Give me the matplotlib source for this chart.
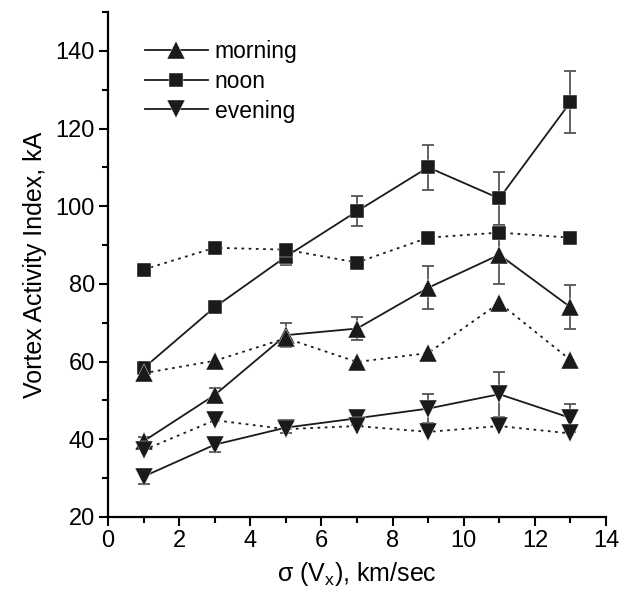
import numpy as np
import matplotlib.pyplot as plt
from matplotlib.lines import Line2D

plt.rcParams['font.family'] = ['Liberation Sans', 'DejaVu Sans']

# Dados
x = [1, 3, 5, 7, 9, 11, 13]

morning = [39.5, 51.4, 66.8, 68.5, 79.0, 87.5, 74.0]
morning_err = [1.0, 1.8, 3.0, 3.0, 5.5, 7.6, 5.6]
noon = [58.3, 74.0, 87.0, 98.7, 110.0, 102.0, 126.8]
noon_err = [0.8, 0.8, 2.2, 3.8, 5.8, 6.8, 8.0]
evening = [30.4, 38.6, 43.0, 45.4, 47.9, 51.6, 45.5]
evening_err = [2.0, 2.0, 1.5, 1.8, 3.8, 5.8, 3.6]

morning_b = [57.0, 60.2, 66.0, 59.9, 62.2, 75.1, 60.4]
noon_b = [83.7, 89.3, 88.8, 85.5, 91.9, 93.2, 91.9]
evening_b = [37.2, 44.9, 42.6, 43.4, 41.9, 43.4, 41.5]

labels = ['morning', 'noon', 'evening']
markers = ['^', 's', 'v']
sizes = [12.5, 10, 12.5]

fig = plt.figure(figsize=(6.28, 5.99), dpi=100)
ax = fig.add_axes([0.172, 0.137, 0.793, 0.843])

cor = '#1a1a1a'
pont = (0, (1.5, 2.5))
mk = dict(mec='white', mew=0.3)

# Séries com barras de erro (linha contínua), barras por baixo dos marcadores
for y, e, m, s in zip([morning, noon, evening], [morning_err, noon_err, evening_err], markers, sizes):
    ax.errorbar(x, y, yerr=e, fmt='none', ecolor='#555555', elinewidth=1.3,
                capsize=4, capthick=1.3, zorder=2)
    ax.plot(x, y, color=cor, lw=1.3, marker=m, ms=s, zorder=3, **mk)

# Séries pontilhadas
for y, m, s in zip([morning_b, noon_b, evening_b], markers, sizes):
    ax.plot(x, y, color=cor, lw=1.3, ls=pont, marker=m, ms=s, zorder=3, **mk)

ax.set_xlim(0, 14)
ax.set_ylim(20, 150)
ax.set_xticks(np.arange(0, 15, 2))
ax.set_xticks(np.arange(1, 14, 2), minor=True)
ax.set_yticks(np.arange(20, 141, 20))
ax.set_yticks(np.arange(30, 151, 20), minor=True)
ax.spines['top'].set_visible(False)
ax.spines['right'].set_visible(False)
for s in ['left', 'bottom']:
    ax.spines[s].set_linewidth(1.6)
ax.tick_params(which='major', direction='out', length=6.5, width=1.5, labelsize=17, pad=3)
ax.tick_params(which='minor', direction='out', length=4, width=1.5)

ax.set_xlabel(r'σ (V$_\mathregular{x}$), km/sec', fontsize=18, labelpad=6)
ax.set_ylabel('Vortex Activity Index, kA', fontsize=18, labelpad=6)

handles = [Line2D([], [], color=cor, lw=1.3, marker=m, ms=s, **mk) for m, s in zip(markers, sizes)]
ax.legend(handles, labels, loc='upper left', bbox_to_anchor=(0.074, 0.945), frameon=False,
          fontsize=16.5, handlelength=2.75, handletextpad=0.3, labelspacing=0.3,
          borderpad=0, borderaxespad=0)

fig.savefig('out.png', dpi=100)
